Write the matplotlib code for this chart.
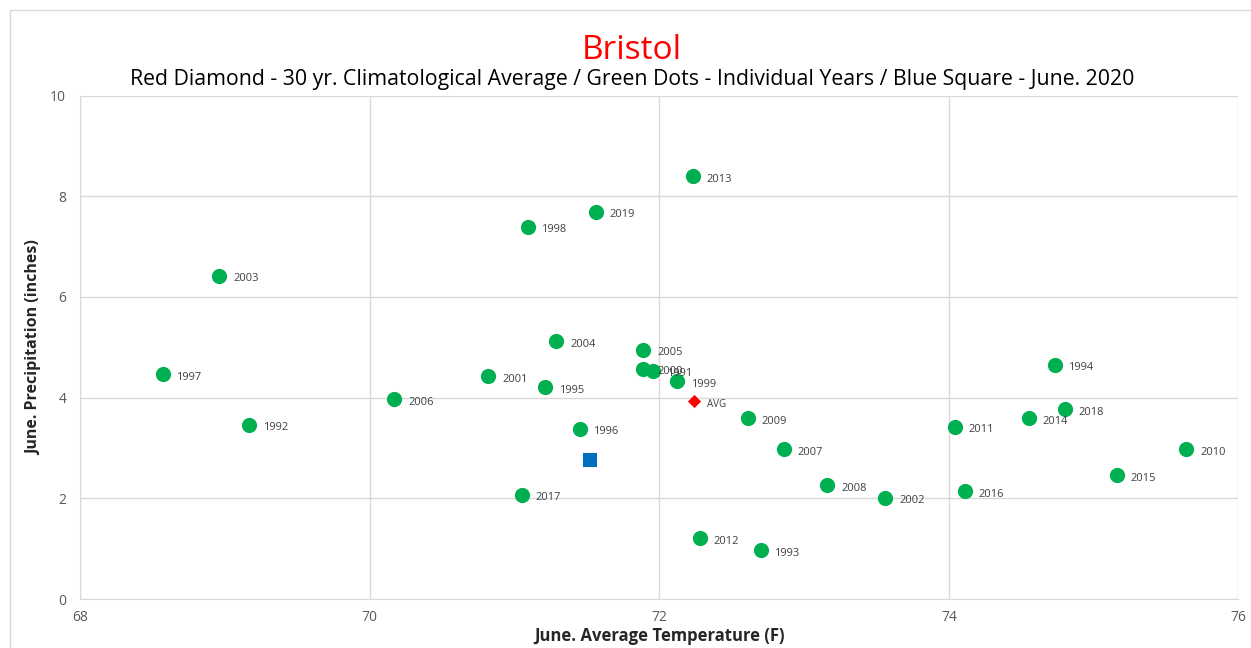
import numpy as np
import matplotlib.pyplot as plt
from matplotlib.patches import Rectangle

plt.rcParams['font.family'] = ['Open Sans', 'DejaVu Sans']

# Individual years: June average temperature (F) and precipitation (inches)
years = ['2013', '2019', '1998', '2003', '2004', '2005', '2000', '1991', '1999',
         '1997', '2001', '1995', '2006', '1992', '1996', '2017', '2009', '2007',
         '2008', '2002', '2012', '1993', '2011', '2016', '2014', '1994', '2018',
         '2015', '2010']
temps = [72.23, 71.56, 71.09, 68.96, 71.29, 71.89, 71.89, 71.96, 72.12,
         68.57, 70.82, 71.21, 70.17, 69.17, 71.45, 71.05, 72.61, 72.86,
         73.16, 73.56, 72.28, 72.70, 74.04, 74.11, 74.55, 74.73, 74.80,
         75.16, 75.64]
precip = [8.40, 7.69, 7.39, 6.42, 5.12, 4.95, 4.57, 4.53, 4.33,
          4.47, 4.43, 4.21, 3.97, 3.46, 3.38, 2.07, 3.59, 2.98,
          2.26, 2.01, 1.21, 0.97, 3.42, 2.14, 3.59, 4.65, 3.77,
          2.46, 2.98]

avg_temp, avg_precip = 72.24, 3.93      # 30 yr climatological average
cur_temp, cur_precip = 71.52, 2.76      # June 2020

fig = plt.figure(figsize=(12.51, 6.48), dpi=100)
ax = fig.add_axes([0.064, 0.0756, 0.926, 0.777])

# outer chart border
fig.patches.append(Rectangle((10 / 1251, -0.05), 1.1, 1 - 10 / 648 + 0.05,
                             transform=fig.transFigure, fill=False,
                             edgecolor='#D9D9D9', linewidth=1))

ax.scatter(temps, precip, s=120, color='#00B050', zorder=3, linewidths=0)
for yr, t, p in zip(years, temps, precip):
    ax.annotate(yr, (t, p), xytext=(10, -4), textcoords='offset points',
                fontsize=8, color='#404040')

ax.scatter([avg_temp], [avg_precip], marker='D', s=45, color='#FF0000', zorder=3, linewidths=0)
ax.annotate('AVG', (avg_temp, avg_precip), xytext=(9, -4), textcoords='offset points',
            fontsize=7, color='#404040')
ax.scatter([cur_temp], [cur_precip], marker='s', s=110, color='#0070C0', zorder=3, linewidths=0)

ax.set_xlim(68, 76)
ax.set_ylim(0, 10)
ax.set_xticks([68, 70, 72, 74, 76])
ax.set_yticks([0, 2, 4, 6, 8, 10])
ax.grid(True, color='#D9D9D9', linewidth=1, zorder=0)
ax.set_axisbelow(True)
ax.tick_params(length=0, colors='#595959', labelsize=10)
ax.tick_params(axis='x', pad=8)
ax.tick_params(axis='y', pad=10)
for side in ['top', 'right']:
    ax.spines[side].set_visible(False)
for side in ['left', 'bottom']:
    ax.spines[side].set_color('#D9D9D9')

ax.set_xlabel('June. Average Temperature (F)', fontsize=12, fontweight='bold',
              color='#262626', labelpad=1)
ax.set_ylabel('June. Precipitation (inches)', fontsize=11.5, fontweight='bold',
              color='#262626', labelpad=6)

fig.text(0.505, 0.922, 'Bristol', ha='center', va='center', fontsize=24, color='#FF0000')
fig.text(0.505, 0.877, 'Red Diamond - 30 yr. Climatological Average / Green Dots - Individual Years / Blue Square - June. 2020',
         ha='center', va='center', fontsize=15.3, color='#000000')

fig.savefig('out.png', dpi=100)
